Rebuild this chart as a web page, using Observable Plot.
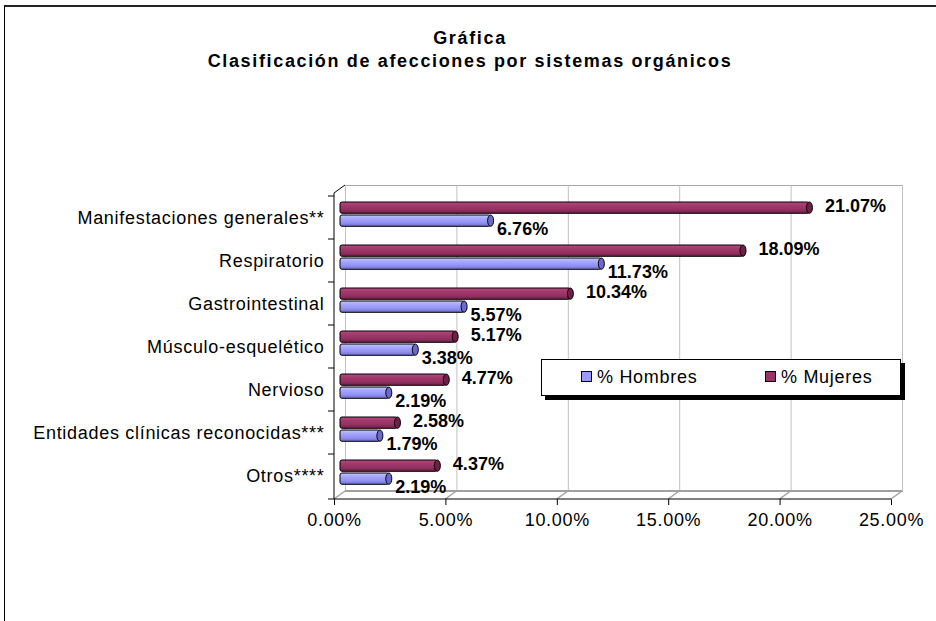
<!DOCTYPE html>
<html><head><meta charset="utf-8">
<script src="https://cdn.jsdelivr.net/npm/d3@7"></script>
<script src="https://cdn.jsdelivr.net/npm/@observablehq/plot@0.6"></script>
<style>
body{margin:0;background:#fff;font-family:"Liberation Sans",Arial,sans-serif;}
#wrap{position:relative;width:936px;height:621px;overflow:hidden;background:#fff;}
#frame{position:absolute;left:4px;top:5px;width:1000px;height:700px;border-left:1px solid #000;border-top:2px solid #222;}
.title{position:absolute;left:0;width:940px;text-align:center;font-weight:bold;font-size:18px;letter-spacing:1.65px;line-height:20px;color:#000;}
#chart{position:absolute;left:0;top:0;}
#legend{position:absolute;left:541px;top:359px;width:358px;height:35px;border:1px solid #000;background:#fff;box-shadow:4px 4px 0 #000;font-size:18px;letter-spacing:0.7px;}
.sw{position:absolute;top:11px;width:9px;height:9px;border:1px solid #000;}
.lt{position:absolute;top:7px;line-height:20px;}
</style>
</head><body>
<div id="wrap">
  <div id="frame"></div>
  <div id="chart"></div>
  <div class="title" style="top:28px">Gráfica</div>
  <div class="title" style="top:51px">Clasificación de afecciones por sistemas orgánicos</div>
  <div id="legend"></div>
</div>
<script>
const categories = ["Manifestaciones generales**","Respiratorio","Gastrointestinal","Músculo-esquelético","Nervioso","Entidades clínicas reconocidas***","Otros****"];
const hombres = [6.76,11.73,5.57,3.38,2.19,1.79,2.19];
const mujeres = [21.07,18.09,10.34,5.17,4.77,2.58,4.37];
const xTicks = [0,5,10,15,20,25];
const seriesNames = ["% Hombres","% Mujeres"];
const seriesColors = ["#9999ff","#993366"];

const data = categories.map((c,i)=>({cat:c, h:hombres[i], m:mujeres[i]}));
const fmt = v => v.toFixed(2) + "%";
const DX = 11, DY = -8;

function defs() {
  const d = d3.create("svg:defs");
  const mk = (id, stops) => {
    const g = d.append("linearGradient").attr("id", id).attr("x1",0).attr("y1",0).attr("x2",0).attr("y2",1);
    stops.forEach(([o,c]) => g.append("stop").attr("offset", o).attr("stop-color", c));
  };
  mk("gh", [[0,"#c4c4ff"],[0.3,"#a8a8ff"],[0.7,"#9090f0"],[1,"#6a6acc"]]);
  mk("gm", [[0,"#b84a80"],[0.3,"#a23a6e"],[0.7,"#923060"],[1,"#6c1f46"]]);
  return d.node();
}

function decor(index, scales, values, dimensions) {
  const {width, height, marginLeft, marginRight, marginTop, marginBottom} = dimensions;
  const left = marginLeft, right = width - marginRight, top = marginTop, bottom = height - marginBottom;
  const g = d3.create("svg:g").attr("fill","none");
  g.append("line").attr("x1", left+DX).attr("x2", right+DX).attr("y1", bottom+DY).attr("y2", bottom+DY).attr("stroke","#a0a0a0").attr("stroke-width",2);
  xTicks.forEach(v => {
    const x = scales.x(v);
    g.append("line").attr("x1", x).attr("y1", bottom).attr("x2", x+DX).attr("y2", bottom+DY).attr("stroke","#a0a0a0").attr("stroke-width",1.5);
  });
  g.append("line").attr("x1", left).attr("y1", top).attr("x2", left+DX).attr("y2", top+DY).attr("stroke","#000");
  g.append("line").attr("x1", left).attr("y1", top).attr("x2", left).attr("y2", bottom).attr("stroke","#000");
  g.append("line").attr("x1", left).attr("y1", bottom).attr("x2", right).attr("y2", bottom).attr("stroke","#000");
  const ys = categories.map(c => scales.y(c)).concat([bottom]);
  ys.forEach(y => g.append("line").attr("x1", left-6).attr("x2", left).attr("y1", y).attr("y2", y).attr("stroke","#000"));
  return g.node();
}

const chart = Plot.plot({
  width: 936, height: 621,
  marginLeft: 334, marginRight: 45, marginTop: 193, marginBottom: 122,
  style: {fontFamily: "'Liberation Sans', Arial, sans-serif", fontSize: "18px", color: "#000", background: "transparent", letterSpacing: "0.7px"},
  x: {domain: [0,25], ticks: xTicks, tickFormat: fmt, tickSize: 6, tickPadding: 8, label: null},
  y: {domain: categories, padding: 0, tickSize: 0, tickPadding: 10, label: null},
  marks: [
    defs,
    Plot.frame({stroke: "#a6a6a6", dx: DX, dy: DY}),
    Plot.ruleX(xTicks, {x: d => d, stroke: "#c0c0c0", dx: DX, dy: DY}),
    decor,
    Plot.barX(data, {y: "cat", x1: 0, x2: "m", insetTop: 6, insetBottom: 25.7, dx: 6, fill: "url(#gm)", stroke: "#000", rx: 2}),
    Plot.barX(data, {y: "cat", x1: "m", x2: "m", insetTop: 6, insetBottom: 25.7, insetLeft: -3, insetRight: -3, dx: 6, fill: "#6e2047", stroke: "#000", rx: 3, ry: 6}),
    Plot.barX(data, {y: "cat", x1: 0, x2: "h", insetTop: 19, insetBottom: 12.7, dx: 6, fill: "url(#gh)", stroke: "#000", rx: 2}),
    Plot.barX(data, {y: "cat", x1: "h", x2: "h", insetTop: 19, insetBottom: 12.7, insetLeft: -3, insetRight: -3, dx: 6, fill: "#6a6acc", stroke: "#000", rx: 3, ry: 6}),
    Plot.text(data, {y: "cat", x: "m", text: d => fmt(d.m), textAnchor: "start", dx: 21, dy: -12, fontWeight: "bold", fontSize: 18}),
    Plot.text(data, {y: "cat", x: "h", text: d => fmt(d.h), textAnchor: "start", dx: 12, dy: 11, fontWeight: "bold", fontSize: 18})
  ]
});
chart.querySelectorAll('g[aria-label="text"]').forEach(g => g.style.letterSpacing = "0px");
document.getElementById("chart").appendChild(chart);

const lg = document.getElementById("legend");
const pos = [[39,55],[223,239]];
seriesNames.forEach((n,i) => {
  const s = document.createElement("div"); s.className = "sw"; s.style.left = pos[i][0]+"px"; s.style.background = seriesColors[i]; lg.appendChild(s);
  const t = document.createElement("div"); t.className = "lt"; t.style.left = pos[i][1]+"px"; t.textContent = n; lg.appendChild(t);
});
</script>
</body></html>
